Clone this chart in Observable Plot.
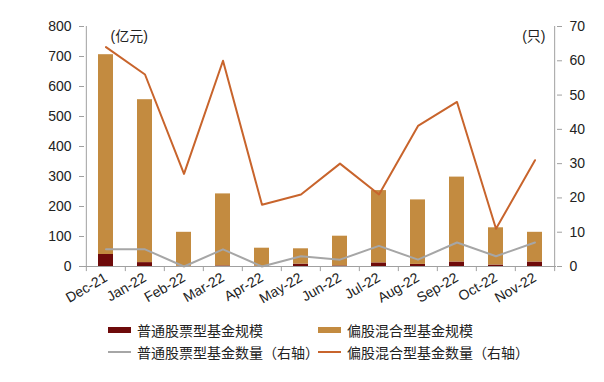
<!DOCTYPE html>
<html><head><meta charset="utf-8">
<script src="https://cdn.jsdelivr.net/npm/d3@7"></script>
<script src="https://cdn.jsdelivr.net/npm/@observablehq/plot@0.6"></script>
<style>
body{margin:0;background:#fff;font-family:"Liberation Sans","Noto Sans CJK SC",sans-serif;}
#wrap{position:relative;width:604px;height:382px;}
.leg{position:absolute;font-size:14px;color:#222;white-space:nowrap;display:flex;align-items:center;}
.sw{display:inline-block;width:23px;margin-right:6px;}
</style></head><body>
<div id="wrap"></div>
<script>
const months = ["Dec-21","Jan-22","Feb-22","Mar-22","Apr-22","May-22","Jun-22","Jul-22","Aug-22","Sep-22","Oct-22","Nov-22"];
const equitySize = [40,13,1,2,1,8,2,12,7,15,5,15];
const hybridSize = [666,543,113,240,60,51,99,241,215,283,124,99];
const equityCount = [5,5,0,5,0,3,2,6,2,7,3,7];
const hybridCount = [64,56,27,60,18,21,30,21,41,48,11,31];
const leftTicks = [0,100,200,300,400,500,600,700,800];
const rightTicks = [0,10,20,30,40,50,60,70];
const seriesNames = ["普通股票型基金规模","偏股混合型基金规模","普通股票型基金数量（右轴）","偏股混合型基金数量（右轴）"];
const colors = ["#6e0a0a","#c38b40","#a6a6a6","#c8642c"];

const K = 800/70;
const table = months.map((m,i)=>({month:m, eq:equitySize[i], hy:hybridSize[i], total:equitySize[i]+hybridSize[i], eqc:equityCount[i]*K, hyc:hybridCount[i]*K}));

const W=604, H=310, mL=84, mR=48, mT=26, mB=44;
const step=(W-mL-mR)/months.length;

const chart = Plot.plot({
  width:W, height:H, marginLeft:mL, marginRight:mR, marginTop:mT, marginBottom:mB,
  style:{fontFamily:'"Liberation Sans","Noto Sans CJK SC",sans-serif', background:"#fff"},
  x:{type:"band", domain:months, paddingInner:0.62, paddingOuter:0.31},
  y:{domain:[0,800]},
  marks:[
    Plot.barY(table,{x:"month", y1:0, y2:"eq", fill:colors[0]}),
    Plot.barY(table,{x:"month", y1:"eq", y2:"total", fill:colors[1]}),
    Plot.line(table,{x:"month", y:"eqc", stroke:colors[2], strokeWidth:2}),
    Plot.line(table,{x:"month", y:"hyc", stroke:colors[3], strokeWidth:2}),
    Plot.ruleX([months[0]],{x:d=>d, y1:0, y2:800, dx:-step/2, stroke:"#a0a0a0"}),
    Plot.ruleX([months[months.length-1]],{x:d=>d, y1:0, y2:800, dx:step/2, stroke:"#a0a0a0"}),
    Plot.ruleY([0],{stroke:"#a0a0a0"}),
    Plot.ruleX(months,{x:d=>d, y1:0, y2:-17, dx:-step/2, stroke:"#a0a0a0"}),
    Plot.ruleX([months[months.length-1]],{x:d=>d, y1:0, y2:-17, dx:step/2, stroke:"#a0a0a0"}),
    Plot.axisY({ticks:leftTicks, anchor:"left", tickSize:5, tickPadding:8, fontSize:14, label:null, stroke:"#a0a0a0", color:"#222"}),
    Plot.axisY({ticks:rightTicks.map(v=>v*K), anchor:"right", tickFormat:d=>Math.round(d/K), tickSize:5, tickPadding:8, fontSize:14, label:null, stroke:"#a0a0a0", color:"#222"}),
    Plot.axisX({tickRotate:-30, tickSize:0, tickPadding:10, fontSize:14, label:null, color:"#222"}),
    Plot.text(["(亿元)"],{frameAnchor:"top-left", dx:26, dy:10, textAnchor:"start", lineAnchor:"middle", fontSize:14, fill:"#222"}),
    Plot.text(["(只)"],{frameAnchor:"top-right", dx:-11, dy:10, textAnchor:"end", lineAnchor:"middle", fontSize:14, fill:"#222"})
  ]
});
const wrap=document.getElementById("wrap");
wrap.appendChild(chart);
const pos=[[108,321],[318,321],[108,343],[318,343]];
seriesNames.forEach((n,i)=>{
  const d=document.createElement("div");
  d.className="leg"; d.style.left=pos[i][0]+"px"; d.style.top=pos[i][1]+"px"; d.style.height="18px";
  const s=document.createElement("span"); s.className="sw";
  s.style.height=(i<2?6:2)+"px"; s.style.background=colors[i];
  d.appendChild(s); d.appendChild(document.createTextNode(n));
  wrap.appendChild(d);
});
</script></body></html>
